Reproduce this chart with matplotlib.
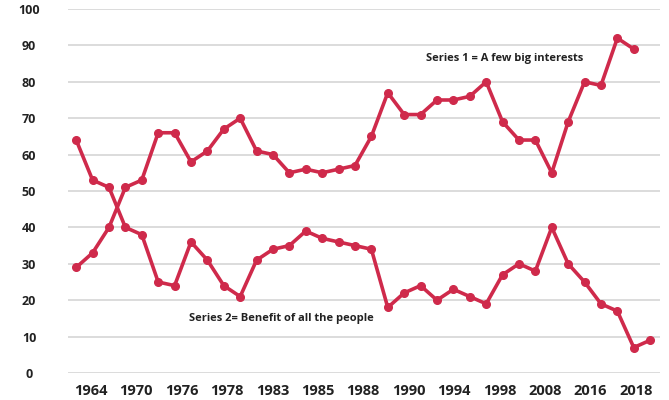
import numpy as np
import matplotlib.pyplot as plt

# values, one per category (36 categories)
series1 = [29, 33, 40, 51, 53, 66, 66, 58, 61, 67, 70, 61, 60, 55, 56, 55, 56, 57,
           65, 77, 71, 71, 75, 75, 76, 80, 69, 64, 64, 55, 69, 80, 79, 92, 89, np.nan]
series2 = [64, 53, 51, 40, 38, 25, 24, 36, 31, 24, 21, 31, 34, 35, 39, 37, 36, 35,
           34, 18, 22, 24, 20, 23, 21, 19, 27, 30, 28, 40, 30, 25, 19, 17, 7, 9]
year_labels = ['1964', '1970', '1976', '1978', '1983', '1985', '1988',
               '1990', '1994', '1998', '2008', '2016', '2018']

red = '#cf2a4b'
txt = '#222222'
plt.rcParams['font.family'] = ['Open Sans', 'DejaVu Sans']

fig = plt.figure(figsize=(6.69, 4.0), dpi=100)
ax = fig.add_axes([68 / 669, 27 / 400, (660 - 68) / 669, (373 - 9) / 400])

x = np.arange(len(series2))
ax.plot(x, series1, color=red, lw=2.6, marker='o', ms=5.5, zorder=3)
ax.plot(x, series2, color=red, lw=2.6, marker='o', ms=5.5, zorder=3)

n = len(series2)
ax.set_xlim(-0.5, n - 0.5 + 0.1)
ax.set_ylim(0, 100)

# labels spread over equal slots across the category axis
slot = n / len(year_labels)
ax.set_xticks([-0.5 + slot * (k + 0.5) for k in range(len(year_labels))])
ax.set_xticklabels(year_labels, fontsize=10.5, fontweight='bold', color=txt)
ax.set_yticks(range(0, 101, 10))
ax.set_yticklabels([str(v) for v in range(0, 101, 10)], fontsize=9,
                   fontweight='bold', color=txt)
for lab in ax.get_yticklabels():
    lab.set_horizontalalignment('center')
ax.tick_params(axis='x', length=0, pad=8)
ax.tick_params(axis='y', length=0, pad=28)

ax.grid(axis='y', color='#d9d9d9', lw=1.3, zorder=0)
ax.set_axisbelow(True)
for s in ax.spines.values():
    s.set_visible(False)

ax.text(26.1, 86.5, 'Series 1 = A few big interests', fontsize=8, fontweight='bold',
        color=txt, ha='center', va='center')
ax.text(12.5, 15, 'Series 2= Benefit of all the people', fontsize=8, fontweight='bold',
        color=txt, ha='center', va='center')

fig.savefig('out.png', dpi=100, facecolor='white')
